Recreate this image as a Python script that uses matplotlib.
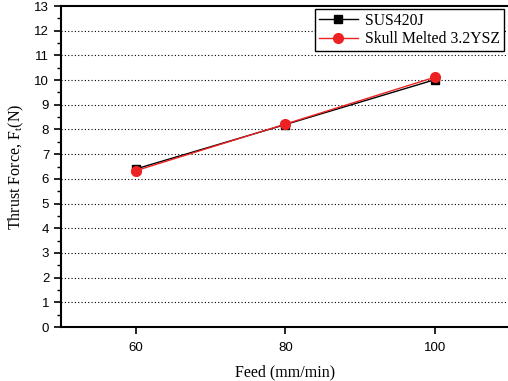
import matplotlib
matplotlib.use("Agg")
import matplotlib.pyplot as plt
from matplotlib.ticker import MultipleLocator

feed = [60, 80, 100]
sus420j = [6.40, 8.20, 10.02]
skull_ysz = [6.33, 8.22, 10.12]
yticks = list(range(0, 14))
xticks = [60, 80, 100]

fig = plt.figure(figsize=(5.08, 3.81), dpi=100)
ax = fig.add_axes([61/508, 1-327/381, (510-61)/508, (327-6)/381])

ax.plot(feed, sus420j, color='black', marker='s', markersize=6, linewidth=1.0, label='SUS420J', zorder=3)
ax.plot(feed, skull_ysz, color='#ee2222', marker='o', markersize=7, linewidth=1.0, label='Skull Melted 3.2YSZ', zorder=4)

ax.set_xlim(50, 110)
ax.set_ylim(0, 13)
ax.set_xticks(xticks)
ax.set_yticks(yticks)
ax.yaxis.set_minor_locator(MultipleLocator(0.5))
for y in yticks[1:-1]:
    ax.axhline(y, color='black', linestyle=(0, (1, 2)), linewidth=0.8, zorder=1)

for s in ['left', 'bottom', 'top']:
    ax.spines[s].set_linewidth(1.5)
ax.spines['right'].set_visible(False)
ax.tick_params(axis='both', which='major', direction='out', length=5, width=1.2,
               labelsize=9.5, labelfontfamily='Liberation Sans')
ax.tick_params(axis='x', which='major', pad=6)
ax.tick_params(axis='y', which='minor', direction='out', length=3, width=1.0)

serif = 'Liberation Serif'
ax.set_xlabel('Feed (mm/min)', fontsize=11.5, family=serif, labelpad=7)
ax.set_ylabel('Thrust Force, F$_\\mathregular{t}$(N)', fontsize=11.5, family=serif, labelpad=6)

leg = ax.legend(loc='upper right', bbox_to_anchor=(504/508, 1-9/381), bbox_transform=fig.transFigure,
                prop={'family': serif, 'size': 11.3}, fancybox=False, framealpha=1, borderaxespad=0,
                edgecolor='black', borderpad=0.25, handlelength=2.5, labelspacing=0.15, handletextpad=0.45)
leg.get_frame().set_linewidth(1.0)

fig.savefig('out.png', dpi=100)
